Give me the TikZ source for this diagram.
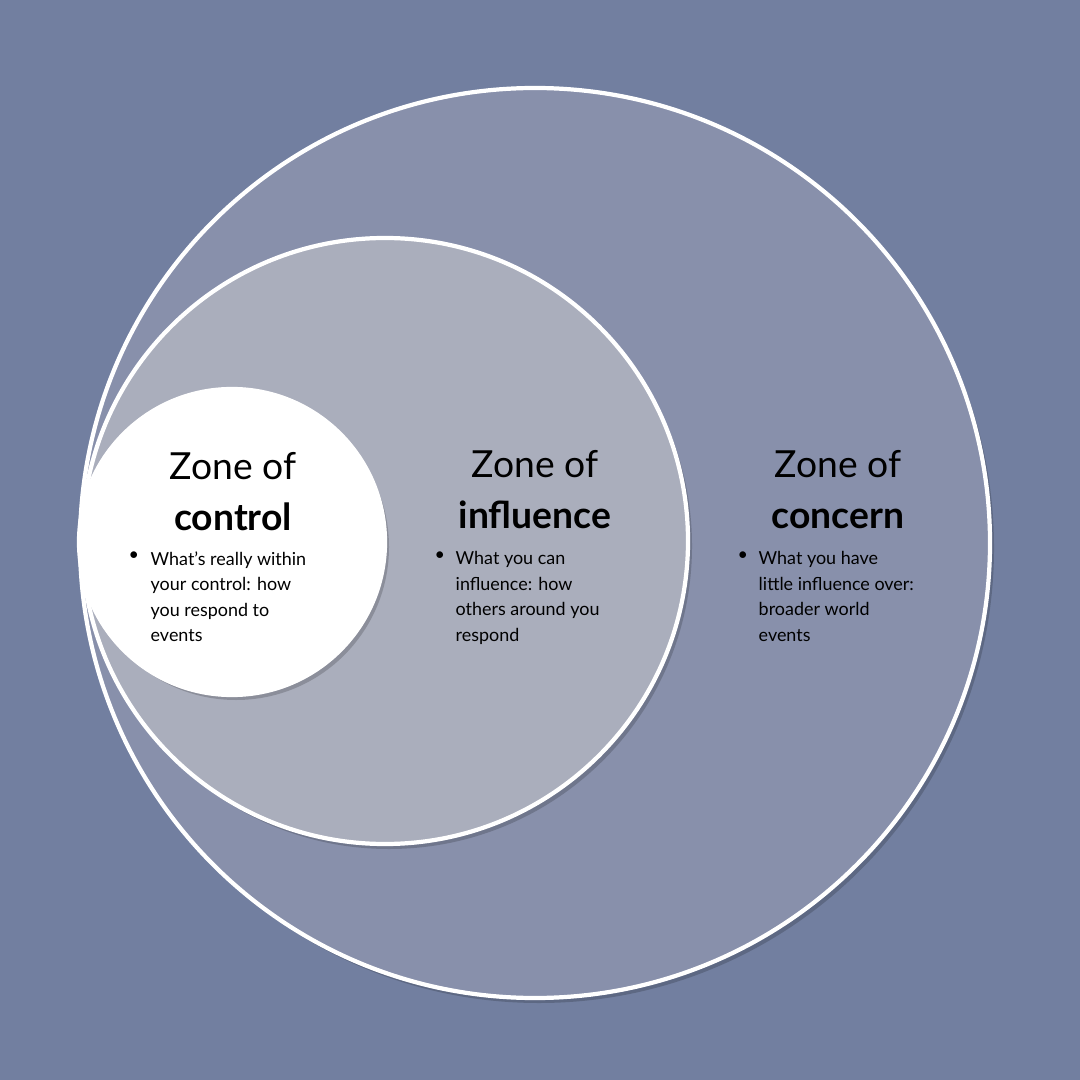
\documentclass[tikz,border=0pt]{standalone}
\usepackage{fontspec}
\setmainfont{Lato}
\begin{document}
\begin{tikzpicture}[x=0.01cm,y=-0.01cm,
  ring/.style={draw=white,line width=1.2pt},
  shadowc/.style={fill=black,opacity=0.18},
  ttl/.style={align=center,font=\fontsize{10.6}{14.5}\selectfont,text=black},
  body/.style={anchor=north west,align=left,font=\fontsize{5.1}{7.25}\selectfont,text=black,inner sep=0pt},
  bul/.style={anchor=north west,font=\fontsize{5.1}{7.25}\selectfont,inner sep=0pt}]
\fill[fill={rgb,255:red,114;green,127;blue,160}] (0,0) rectangle (1080,1080);
\useasboundingbox (0,0) rectangle (1080,1080);
\fill[shadowc] (539,548) circle (455);
\fill[fill={rgb,255:red,136;green,144;blue,171}] (535,543) circle (455);
\draw[ring] (535,543) circle (455);
\fill[shadowc] (389,546) circle (303);
\fill[fill={rgb,255:red,170;green,174;blue,188}] (385,541) circle (303);
\draw[ring] (385,541) circle (303);
\fill[shadowc] (236,547) circle (153);
\fill[white] (232,542) circle (153);
\draw[ring] (232,542) circle (153);
\node[ttl] (t1) at (233,492) {Zone of\\\textbf{control}};
\node[ttl] (t2) at (535,490) {Zone of\\\textbf{influence}};
\node[ttl] (t3) at (838,490) {Zone of\\\textbf{concern}};
\node[bul] (b1) at (128,551) {•};
\node[body] (x1) at (150,551) {What’s really within\\your control: how\\you respond to\\events};
\node[bul] (b2) at (434,551) {•};
\node[body] (x2) at (455,551) {What you can\\influence: how\\others around you\\respond};
\node[bul] (b3) at (737,551) {•};
\node[body] (x3) at (758,551) {What you have\\little influence over:\\broader world\\events};
\end{tikzpicture}
\end{document}
